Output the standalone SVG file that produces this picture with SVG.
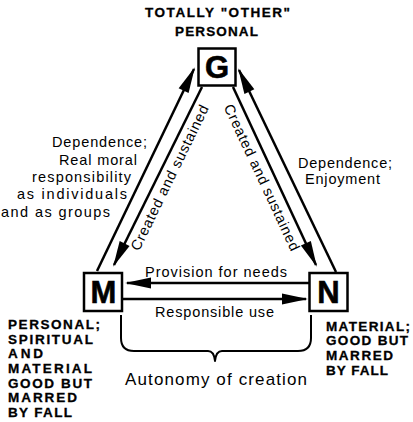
<svg xmlns="http://www.w3.org/2000/svg" width="413" height="422" viewBox="0 0 413 422">
<style>
text { font-family: "Liberation Sans", Arial, Helvetica, sans-serif; fill: #000; }
.lbl { font-size: 14.5px; }
.cap { font-size: 13.5px; font-weight: bold; stroke: #000; stroke-width: 0.3; }
.big { font-size: 31px; font-weight: bold; text-anchor: middle; stroke: #000; stroke-width: 0.6; }
.box { fill: #fff; stroke: #000; stroke-width: 2.5; }
.ln { fill: none; stroke: #000; stroke-width: 2.5; }
.brace { fill: none; stroke: #000; stroke-width: 2; stroke-linejoin: round; }
</style>
<defs>
<marker id="ah" markerUnits="userSpaceOnUse" markerWidth="30" markerHeight="14" viewBox="-26 -7 30 14" refX="0" refY="0" orient="auto">
<path d="M2,0 L-24,-5.5 L-24,5.5 Z" fill="#000"/>
</marker>
</defs>
<rect width="413" height="422" fill="#fff"/>

<g id="connectors">
<line class="ln" x1="97" y1="271" x2="194" y2="69" marker-end="url(#ah)"/>
<line class="ln" x1="202" y1="87" x2="114" y2="265" marker-end="url(#ah)"/>
<line class="ln" x1="233" y1="87" x2="316" y2="265" marker-end="url(#ah)"/>
<line class="ln" x1="336" y1="272" x2="239" y2="70" marker-end="url(#ah)"/>
<line class="ln" x1="309" y1="283" x2="127" y2="283" marker-end="url(#ah)"/>
<line class="ln" x1="123" y1="299" x2="306" y2="299" marker-end="url(#ah)"/>
<text class="lbl" transform="translate(159.7,172.9) rotate(-64)" x="0" y="16" text-anchor="middle" textLength="160">Created and sustained</text>
<text class="lbl" transform="translate(272.8,172.3) rotate(65)" x="0" y="17" text-anchor="middle" textLength="160">Created and sustained</text>
<text class="lbl" x="52" y="147" textLength="95">Dependence;</text>
<text class="lbl" x="59" y="165" textLength="78">Real moral</text>
<text class="lbl" x="32" y="182" textLength="99">responsibility</text>
<text class="lbl" x="17" y="199" textLength="110">as individuals</text>
<text class="lbl" x="1" y="217" textLength="109">and as groups</text>
<text class="lbl" x="298" y="168" textLength="94">Dependence;</text>
<text class="lbl" x="305" y="184" textLength="75">Enjoyment</text>
<text class="lbl" x="145" y="277" textLength="142">Provision for needs</text>
<text class="lbl" x="155" y="317" textLength="119">Responsible use</text>
</g>

<g id="node-G">
<text class="cap" x="145" y="17" textLength="145">TOTALLY "OTHER"</text>
<text class="cap" x="175" y="36" textLength="83">PERSONAL</text>
<rect class="box" x="198.5" y="48.5" width="37" height="37"/>
<text class="big" x="217" y="78">G</text>
</g>

<g id="node-M">
<rect class="box" x="84" y="273" width="38" height="38"/>
<text class="big" x="103.5" y="302.5" textLength="28">M</text>
<text class="cap" x="8" y="329" textLength="92">PERSONAL;</text>
<text class="cap" x="8" y="344" textLength="85">SPIRITUAL</text>
<text class="cap" x="8" y="358" textLength="35">AND</text>
<text class="cap" x="8" y="373" textLength="84">MATERIAL</text>
<text class="cap" x="8" y="388" textLength="84">GOOD BUT</text>
<text class="cap" x="8" y="402" textLength="69">MARRED</text>
<text class="cap" x="8" y="417" textLength="64">BY FALL</text>
</g>

<g id="node-N">
<rect class="box" x="309.5" y="273" width="38" height="38"/>
<text class="big" x="328.5" y="303">N</text>
<text class="cap" x="326" y="331" textLength="84">MATERIAL;</text>
<text class="cap" x="326" y="345" textLength="82">GOOD BUT</text>
<text class="cap" x="326" y="360" textLength="67">MARRED</text>
<text class="cap" x="326" y="375" textLength="62">BY FALL</text>
</g>

<g id="autonomy">
<path class="brace" d="M121,315 V338 Q121,351 134,351 H208 Q214,351 215,361 Q216,351 222,351 H298 Q311,351 311,338 V315"/>
<text class="lbl" x="125" y="385" style="font-size:17px" textLength="182">Autonomy of creation</text>
</g>
</svg>
